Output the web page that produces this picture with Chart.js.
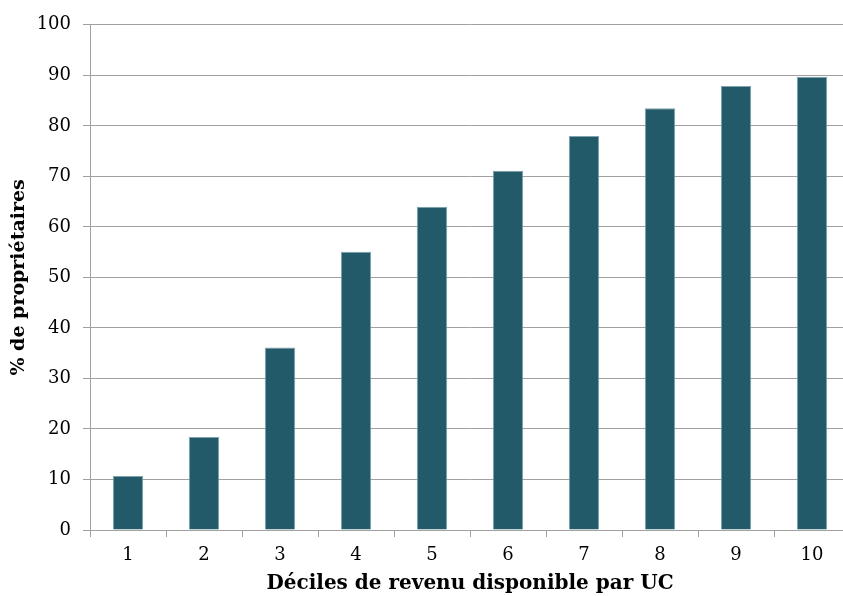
<!DOCTYPE html>
<html>
<head>
<meta charset="utf-8">
<script src="https://cdn.jsdelivr.net/npm/chart.js@4.4.0/dist/chart.umd.min.js"></script>
<style>
  html, body { margin: 0; padding: 0; background: #fff; overflow: hidden; }
  #wrap { width: 850px; height: 594px; margin-top: 2px; }
</style>
</head>
<body>
<div id="wrap"><canvas id="chart"></canvas></div>
<script>
// deciles and share of owners (%)
const deciles = ['1', '2', '3', '4', '5', '6', '7', '8', '9', '10'];
const owners = [10.7, 18.4, 36.1, 55.1, 64.0, 71.1, 78.0, 83.5, 87.9, 89.7];
const yTicks = [0, 10, 20, 30, 40, 50, 60, 70, 80, 90, 100];

const font = 'DejaVu Serif';
const grid = '#a0a0a0';

const ctx = document.getElementById('chart').getContext('2d');
new Chart(ctx, {
  type: 'bar',
  data: {
    labels: deciles,
    datasets: [{
      data: owners,
      backgroundColor: '#235a69',
      borderColor: '#7fa2ac',
      borderWidth: 1,
      barPercentage: 0.4,
      categoryPercentage: 1
    }]
  },
  options: {
    responsive: true,
    maintainAspectRatio: false,
    animation: false,
    layout: { padding: { top: 16, right: 0, left: 8, bottom: 0 } },
    plugins: { legend: { display: false }, tooltip: { enabled: false } },
    scales: {
      x: {
        grid: { display: true, drawOnChartArea: false, offset: true, color: grid, tickLength: 7 },
        border: { color: grid },
        ticks: { color: '#000', font: { family: font, size: 18 }, padding: 8 },
        title: { display: true, text: 'Déciles de revenu disponible par UC', color: '#000',
                 font: { family: font, size: 20, weight: 'bold' }, padding: { top: 0, bottom: 0 } },
        afterFit: axis => { axis.height = 66; }
      },
      y: {
        min: 0, max: 100,
        afterBuildTicks: axis => { axis.ticks = yTicks.map(v => ({ value: v })); },
        grid: { color: grid, tickLength: 7 },
        border: { color: grid },
        ticks: { color: '#000', font: { family: font, size: 18 }, padding: 12 },
        title: { display: true, text: '% de propriétaires', color: '#000',
                 font: { family: font, size: 19, weight: 'bold' }, padding: { top: 0, bottom: 4 } },
        afterFit: axis => { axis.width = 82; }
      }
    }
  }
});
</script>
</body>
</html>
